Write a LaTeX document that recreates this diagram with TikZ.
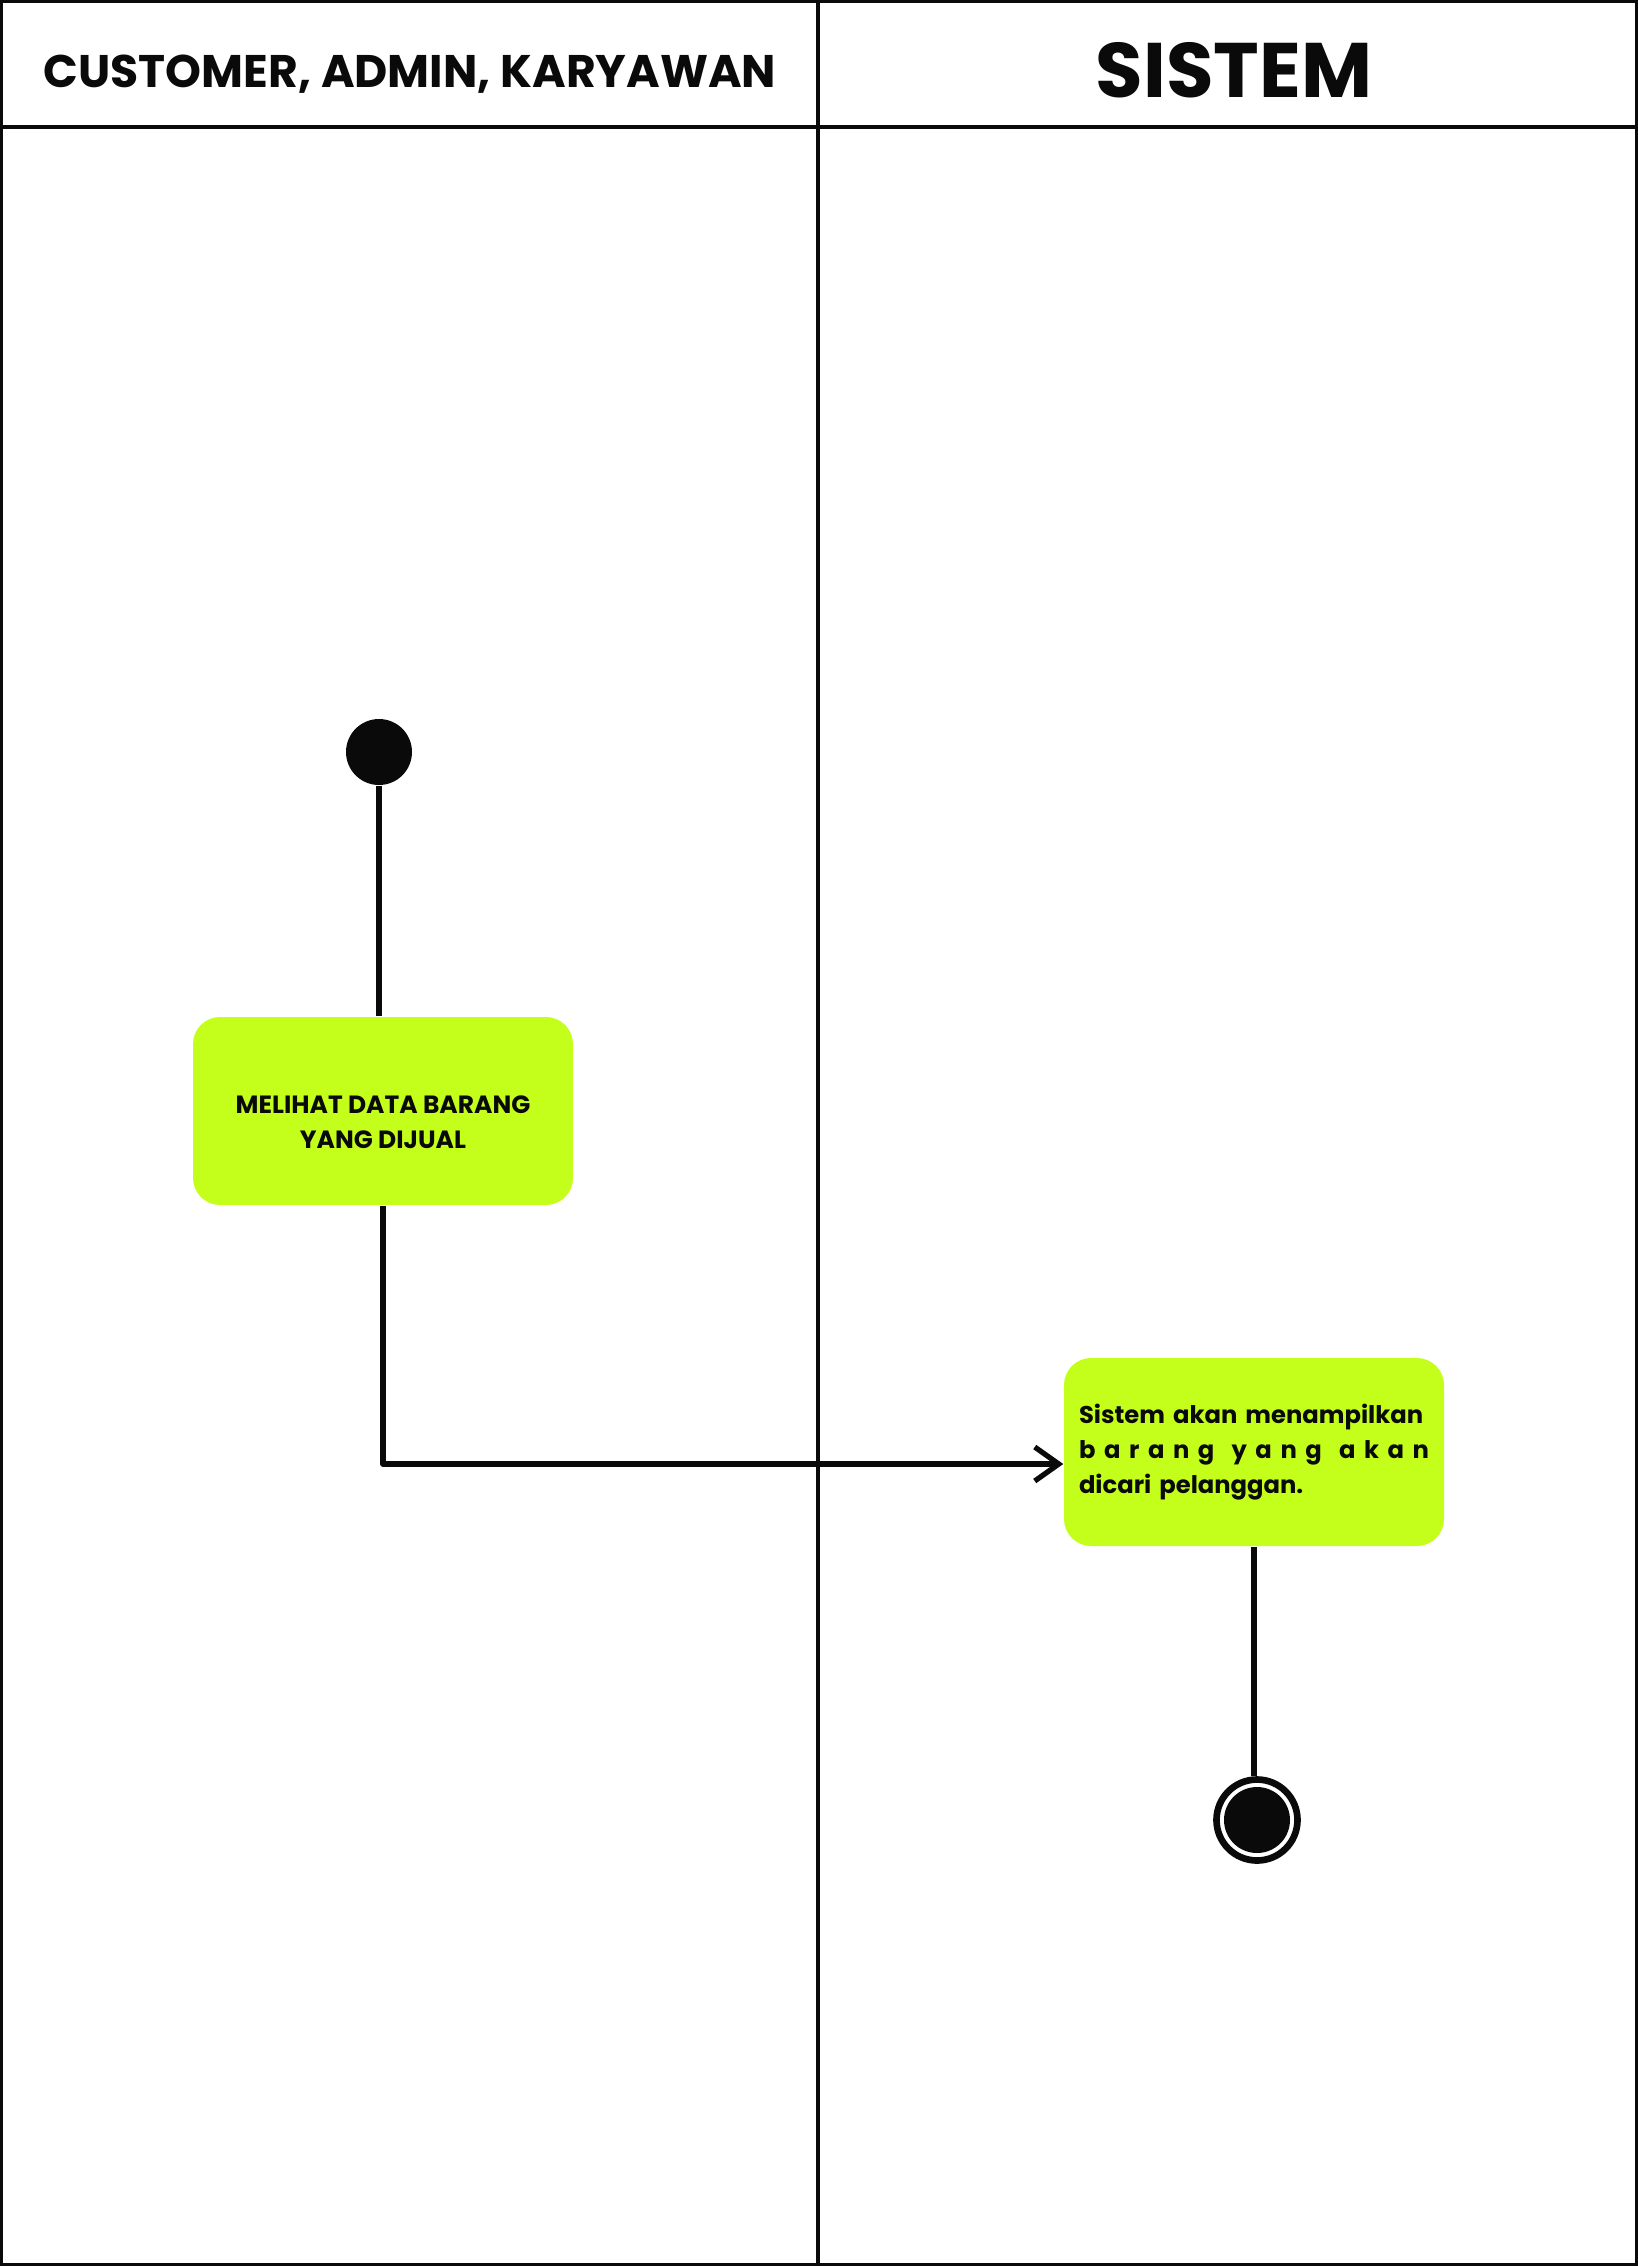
\documentclass[tikz,border=0pt]{standalone}
\usepackage{fontspec}
\setmainfont{Poppins}
\usetikzlibrary{arrows.meta,positioning}
\definecolor{limegreen}{HTML}{C4FF1C}
\definecolor{inkblack}{HTML}{0A0A0A}
\tikzset{
  activity/.style={rectangle, rounded corners=2.7mm, fill=limegreen, minimum width=3.8cm, minimum height=1.88cm, text=inkblack, font=\bfseries\fontsize{7.1}{10}\selectfont},
  flow/.style={line width=1.5pt, draw=inkblack},
  lane/.style={line width=1pt, draw=inkblack},
}
\begin{document}
\begin{tikzpicture}[x=0.1mm, y=-0.1mm, line join=round]
\useasboundingbox (0,0) rectangle (1638,2266);
% swimlanes
\draw[lane] (1,1) rectangle (1637,2265);
\draw[lane] (1,127) -- (1637,127);
\draw[lane] (818,1) -- (818,2265);
\node[font=\bfseries\fontsize{13}{16}\selectfont, text=inkblack] (lanecust) at (410,74) {CUSTOMER, ADMIN, KARYAWAN};
\node[font=\bfseries\fontsize{22}{26}\selectfont, text=inkblack] (lanesis) at (1234,70) {SISTEM};
% start and end
\node[circle, fill=inkblack, minimum size=6.6mm, inner sep=0pt] (start) at (379,752) {};
\node[circle, draw=inkblack, line width=1.9pt, minimum size=8.1mm, inner sep=0pt] (finish) at (1257,1820) {};
\node[circle, fill=inkblack, minimum size=6.6mm, inner sep=0pt] (finishdot) at (finish) {};
% activities
\node[activity, align=center] (lihat) at (383,1111) {\rule{0pt}{11.3pt}MELIHAT DATA BARANG\\YANG DIJUAL};
\node[activity, text width=3.5cm, align=left, font=\bfseries\fontsize{6.9}{10}\selectfont] (tampil) at (1254,1452)
  {Sistem akan menampilkan\\\makebox[3.5cm]{b\hfill a\hfill r\hfill a\hfill n\hfill g\hfill\hfill y\hfill a\hfill n\hfill g\hfill\hfill a\hfill k\hfill a\hfill n}\\dicari pelanggan.};
% flows
\draw[flow] (start) -- (start |- lihat.north);
\draw[flow, -{Straight Barb[length=2.4mm, width=3.4mm]}] (lihat.south) |- ([yshift=-1.2mm]tampil.west);
\draw[flow] (tampil.south) -- (tampil.south |- finish.north);
\end{tikzpicture}
\end{document}
